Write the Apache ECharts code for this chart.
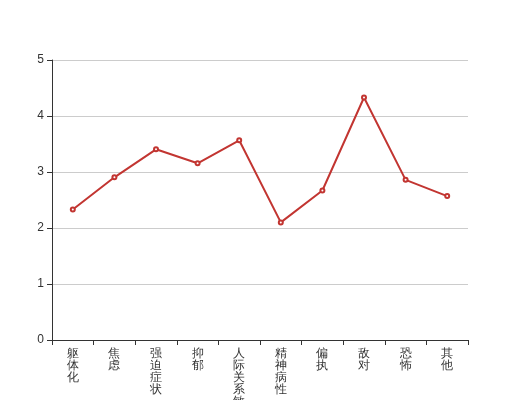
<!DOCTYPE html>
<html><head><meta charset="utf-8">
<script src="https://cdn.jsdelivr.net/npm/echarts@6/dist/echarts.min.js"></script>
<style>html,body{margin:0;padding:0;background:#fff}#c{width:520px;height:400px}</style>
</head><body><div id="c"></div>
<script>
const categories = ['躯体化','焦虑','强迫症状','抑郁','人际关系敏感','精神病性','偏执','敌对','恐怖','其他'];
const values = [2.33, 2.905, 3.405, 3.155, 3.566, 2.10, 2.67, 4.33, 2.86, 2.57];
const yTicks = [0, 1, 2, 3, 4, 5];

const chart = echarts.init(document.getElementById('c'), null, {renderer:'canvas'});
chart.setOption({
  animation: false,
  textStyle: {fontFamily: 'sans-serif'},
  grid: {left: 52, right: 52, top: 60, bottom: 60, containLabel: false, outerBoundsMode: 'none'},
  xAxis: {
    type: 'category',
    data: categories,
    boundaryGap: true,
    axisLine: {show: true, lineStyle: {color: '#333'}},
    axisTick: {show: true, alignWithLabel: false, lineStyle: {color: '#333'}},
    axisLabel: {
      interval: 0, color: '#333', fontSize: 12, lineHeight: 12,
      formatter: v => v.split('').join('\n')
    }
  },
  yAxis: {
    type: 'value',
    min: yTicks[0], max: yTicks[yTicks.length - 1], interval: 1,
    axisLine: {show: true, lineStyle: {color: '#333'}},
    axisTick: {show: true, lineStyle: {color: '#333'}},
    axisLabel: {color: '#333', fontSize: 12},
    splitLine: {show: true, lineStyle: {color: '#ccc'}}
  },
  series: [{
    type: 'line',
    data: values,
    symbol: 'emptyCircle',
    symbolSize: 4,
    lineStyle: {width: 2, color: '#c23531'},
    itemStyle: {color: '#c23531', borderWidth: 1}
  }]
});
</script></body></html>
